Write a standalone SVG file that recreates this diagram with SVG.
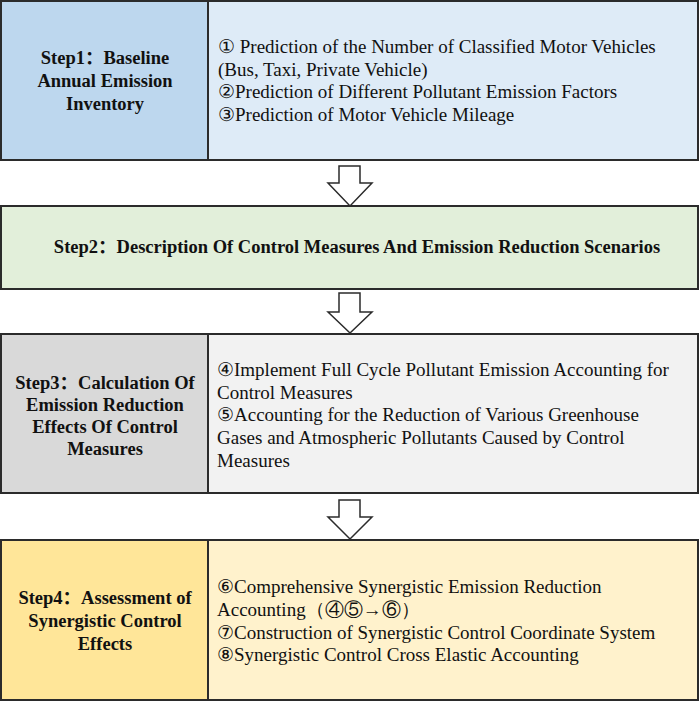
<svg xmlns="http://www.w3.org/2000/svg" width="699" height="701" viewBox="0 0 699 701">
<style>
.b{stroke:#2b2b2b;stroke-width:2}
.t{font-family:"Liberation Serif","Times New Roman",serif;font-size:19px;fill:#111}
.h{font-family:"Liberation Serif","Times New Roman",serif;font-size:18.5px;font-weight:bold;fill:#111;text-anchor:middle}
.c{font-family:"Noto Sans CJK SC",sans-serif}
.a{fill:#fff;stroke:#2b2b2b;stroke-width:1.5}
</style>
<rect width="699" height="701" fill="#fff"/>
<g id="step1">
<rect class="b" x="1" y="1" width="207" height="159" fill="#BDD7EE"/>
<rect class="b" x="208" y="1" width="490" height="159" fill="#DEEBF7"/>
<text class="h"><tspan x="105" y="64">Step1<tspan class="c">：</tspan>Baseline</tspan><tspan x="105" y="87">Annual Emission</tspan><tspan x="105" y="110">Inventory</tspan></text>
<text class="t"><tspan x="218" y="53">① Prediction of the Number of Classified Motor Vehicles</tspan><tspan x="218" y="76">(Bus, Taxi, Private Vehicle)</tspan><tspan x="218" y="98">②Prediction of Different Pollutant Emission Factors</tspan><tspan x="218" y="121">③Prediction of Motor Vehicle Mileage</tspan></text>
</g>
<g id="step2">
<rect class="b" x="1" y="206" width="697" height="83" fill="#E2EFDA"/>
<text class="h" x="357" y="253">Step2<tspan class="c">：</tspan>Description Of Control Measures And Emission Reduction Scenarios</text>
</g>
<g id="step3">
<rect class="b" x="1" y="334" width="207" height="159" fill="#D9D9D9"/>
<rect class="b" x="208" y="334" width="490" height="159" fill="#F2F2F2"/>
<text class="h"><tspan x="105" y="389">Step3<tspan class="c">：</tspan>Calculation Of</tspan><tspan x="105" y="411">Emission Reduction</tspan><tspan x="105" y="433">Effects Of Control</tspan><tspan x="105" y="455">Measures</tspan></text>
<text class="t"><tspan x="217" y="376">④Implement Full Cycle Pollutant Emission Accounting for</tspan><tspan x="217" y="399">Control Measures</tspan><tspan x="217" y="421">⑤Accounting for the Reduction of  Various Greenhouse</tspan><tspan x="217" y="444">Gases and Atmospheric Pollutants Caused by Control</tspan><tspan x="217" y="467">Measures</tspan></text>
</g>
<g id="step4">
<rect class="b" x="1" y="540" width="207" height="160" fill="#FFE699"/>
<rect class="b" x="208" y="540" width="490" height="160" fill="#FFF2CC"/>
<text class="h"><tspan x="105" y="604">Step4<tspan class="c">：</tspan>Assessment of</tspan><tspan x="105" y="627">Synergistic Control</tspan><tspan x="105" y="650">Effects</tspan></text>
<text class="t"><tspan x="217" y="593">⑥Comprehensive Synergistic Emission Reduction</tspan><tspan x="217" y="616">Accounting（④⑤→⑥）</tspan><tspan x="217" y="639">⑦Construction of  Synergistic Control Coordinate System</tspan><tspan x="217" y="661">⑧Synergistic Control Cross Elastic Accounting</tspan></text>
</g>
<g id="connectors">
<polygon class="a" points="339,166 360,166 360,183 372,183 350,206 328,183 339,183"/>
<polygon class="a" points="339,293 360,293 360,312 372,312 350,333 328,312 339,312"/>
<polygon class="a" points="339,500 360,500 360,517 372,517 350,539 328,517 339,517"/>
</g>
</svg>
